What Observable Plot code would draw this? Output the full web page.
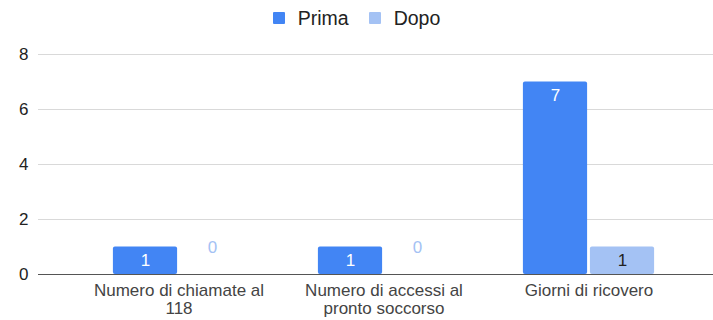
<!DOCTYPE html>
<html>
<head>
<meta charset="utf-8">
<script src="https://cdn.jsdelivr.net/npm/d3@7"></script>
<script src="https://cdn.jsdelivr.net/npm/@observablehq/plot@0.6"></script>
<style>
  body { margin: 0; background: #fff; font-family: "Liberation Sans", Arial, sans-serif; }
  #legend { height: 36px; display: flex; justify-content: center; align-items: center; font-size: 19.5px; color: #222; }
  .item { display: flex; align-items: center; margin: 0 10px; }
  .sw { width: 12px; height: 12px; border-radius: 1px; margin-right: 13px; }
</style>
</head>
<body>
<div id="legend"></div>
<div id="chart"></div>
<script>
const categories = ["Numero di chiamate al 118", "Numero di accessi al pronto soccorso", "Giorni di ricovero"];
const series = ["Prima", "Dopo"];
const prima = [1, 1, 7];
const dopo = [0, 0, 1];
const yTicks = [0, 2, 4, 6, 8];
const colors = ["#4285F4", "#A4C2F4"];

const primaRows = categories.map((c, i) => ({cat: c, series: "Prima", value: prima[i]}));
const dopoRows = categories.map((c, i) => ({cat: c, series: "Dopo", value: dopo[i]}));

const legend = document.getElementById("legend");
series.forEach((s, i) => {
  const it = document.createElement("div");
  it.className = "item";
  it.innerHTML = `<span class="sw" style="background:${colors[i]}"></span><span>${s}</span>`;
  legend.appendChild(it);
});

// each category band holds two 65px bars separated by a 2px gap, centred in the band
const bandHalf = 102.9, barW = 65, gap = 2;
const outer = bandHalf - gap / 2 - barW;   // space between band edge and outer bar edge
const inner = bandHalf + gap / 2;          // space between band edge and inner bar edge
const off = gap / 2 + barW / 2;            // offset of each bar centre from band centre

const chart = Plot.plot({
  width: 713,
  height: 284,
  marginTop: 18,
  marginBottom: 46,
  marginLeft: 38,
  marginRight: 0,
  style: {fontFamily: "Liberation Sans, Arial, sans-serif", fontSize: "15px", color: "#333", background: "#fff"},
  x: {domain: categories, paddingInner: 0, paddingOuter: 0.14, align: 0.64, label: null},
  y: {domain: [0, 8], ticks: yTicks, label: null},
  color: {domain: series, range: colors},
  marks: [
    Plot.gridY(yTicks.filter(d => d !== 0), {stroke: "#d9d9d9", strokeOpacity: 1}),
    Plot.axisY(yTicks, {tickSize: 0, tickPadding: 10, fontSize: 17, color: "#222", label: null}),
    Plot.barY(primaRows, {x: "cat", y: "value", fill: "series", insetLeft: outer, insetRight: inner, rx: 2}),
    Plot.barY(dopoRows, {x: "cat", y: "value", fill: "series", insetLeft: inner, insetRight: outer, rx: 2}),
    Plot.ruleY([0], {stroke: "#555", strokeWidth: 1.2}),
    Plot.text(primaRows, {filter: d => d.value > 0, x: "cat", y: "value", text: d => String(d.value), dx: -off, dy: 14, fill: "white", fontSize: 17}),
    Plot.text(dopoRows, {filter: d => d.value > 0, x: "cat", y: "value", text: d => String(d.value), dx: off, dy: 14, fill: "#222", fontSize: 17}),
    Plot.text(dopoRows, {filter: d => d.value === 0, x: "cat", y: "value", text: d => String(d.value), dx: off, dy: -27, fill: "#A4C2F4", fontSize: 17}),
    Plot.axisX({tickSize: 0, tickPadding: 9, lineWidth: 11.5, lineHeight: 1.05, fontSize: 17, color: "#444", label: null})
  ]
});
document.getElementById("chart").appendChild(chart);
</script>
</body>
</html>
